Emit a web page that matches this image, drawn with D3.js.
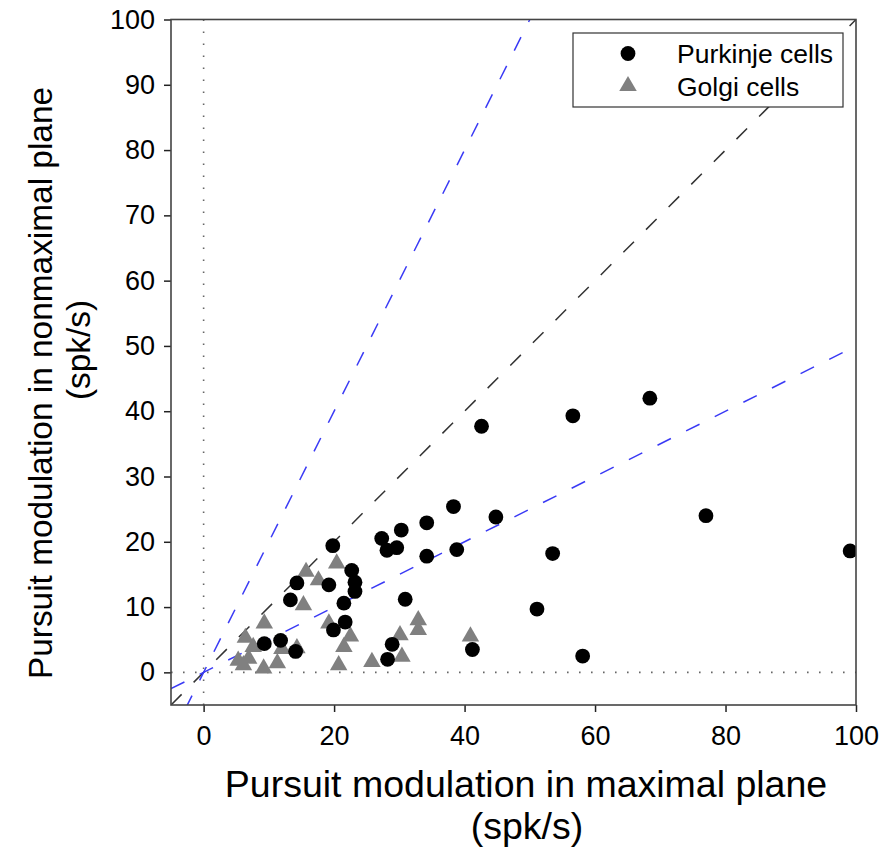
<!DOCTYPE html>
<html>
<head>
<meta charset="utf-8">
<script src="https://cdn.jsdelivr.net/npm/d3@7"></script>
<style>
  html, body { margin: 0; padding: 0; background: #fff; }
  svg { display: block; font-family: "Liberation Sans", Arial, Helvetica, sans-serif; }
</style>
</head>
<body>
<svg id="chart" width="883" height="855"></svg>
<script>
// Pursuit modulation (spk/s): maximal plane (x) vs nonmaximal plane (y)
const purkinjeX = [99.1, 68.4, 56.6, 42.6, 77.0, 38.3, 44.8, 34.2, 30.3, 27.3, 28.1, 29.6,
                   34.2, 38.8, 53.5, 30.9, 51.1, 28.9, 28.2, 41.2, 58.1,
                   19.8, 22.7, 23.2, 23.2, 21.5, 21.7, 19.9, 19.2, 14.3, 13.3, 9.3, 11.8, 14.1];
const purkinjeY = [18.6, 42.0, 39.3, 37.7, 24.0, 25.4, 23.8, 22.9, 21.8, 20.5, 18.7, 19.1,
                   17.8, 18.8, 18.2, 11.2, 9.7, 4.3, 2.0, 3.5, 2.5,
                   19.4, 15.6, 13.8, 12.4, 10.6, 7.7, 6.5, 13.4, 13.7, 11.1, 4.4, 4.9, 3.2];

const golgiX = [15.7, 17.6, 20.4, 15.3, 9.3, 19.2, 22.5, 21.5, 20.7, 6.4, 7.6, 5.3,
                6.9, 6.1, 9.2, 11.3, 12.0, 14.3, 25.8, 30.1, 30.4, 32.9, 32.9, 40.9];
const golgiY = [15.4, 14.1, 16.7, 10.3, 7.5, 7.5, 5.5, 3.9, 1.1, 5.3, 3.9, 1.8,
                2.1, 1.1, 0.6, 1.4, 3.6, 3.7, 1.6, 5.7, 2.4, 8.0, 6.5, 5.5];

const tickValues = [0, 10, 20, 30, 40, 50, 60, 70, 80, 90, 100];
const xTickValues = [0, 20, 40, 60, 80, 100];
const seriesNames = ["Purkinje cells", "Golgi cells"];
// reference lines: slope of y = k * x
const refSlopes = [1, 2, 0.5];
const refColors = ["#333333", "#3a3af5", "#3a3af5"];

const svg = d3.select("#chart");
const mLeft = 171, mRight = 856, mTop = 19.5, mBottom = 705;

const x = d3.scaleLinear().domain([-5, 100]).range([mLeft, mRight]);
const y = d3.scaleLinear().domain([-5, 100]).range([mBottom, mTop]);

svg.append("defs").append("clipPath").attr("id", "plotClip")
  .append("rect").attr("x", mLeft).attr("y", mTop)
  .attr("width", mRight - mLeft).attr("height", mBottom - mTop);

const plot = svg.append("g").attr("clip-path", "url(#plotClip)");

// dotted zero lines
plot.append("line")
  .attr("x1", x(0)).attr("x2", x(0)).attr("y1", y(-5)).attr("y2", y(100))
  .attr("stroke", "#666").attr("stroke-width", 1.6).attr("stroke-dasharray", "1.6,10.4");
plot.append("line")
  .attr("x1", x(-5)).attr("x2", x(100)).attr("y1", y(0)).attr("y2", y(0))
  .attr("stroke", "#666").attr("stroke-width", 1.6).attr("stroke-dasharray", "1.6,10.4");

// dashed reference lines through the origin
refSlopes.forEach((k, i) => {
  const x0 = -5, x1 = 100;
  plot.append("line")
    .attr("x1", x(x0)).attr("y1", y(k * x0))
    .attr("x2", x(x1)).attr("y2", y(k * x1))
    .attr("stroke", refColors[i]).attr("stroke-width", 1.5)
    .attr("stroke-dasharray", "15,17");
});

// triangle path centred on its centroid
function trianglePath(cx, cy, w) {
  const h = w * Math.sqrt(3) / 2;
  return `M${cx},${cy - 2 * h / 3}L${cx + w / 2},${cy + h / 3}L${cx - w / 2},${cy + h / 3}Z`;
}

// Golgi cells
plot.append("g").selectAll("path")
  .data(golgiX.map((v, i) => [v, golgiY[i]]))
  .join("path")
  .attr("d", d => trianglePath(x(d[0]), y(d[1]), 17.5))
  .attr("fill", "#808080");

// Purkinje cells
plot.append("g").selectAll("circle")
  .data(purkinjeX.map((v, i) => [v, purkinjeY[i]]))
  .join("circle")
  .attr("cx", d => x(d[0])).attr("cy", d => y(d[1]))
  .attr("r", 7.4).attr("fill", "#000");

// axes
const yAxis = svg.append("g").attr("transform", `translate(${mLeft},0)`)
  .call(d3.axisLeft(y).tickValues(tickValues).tickSize(7).tickSizeOuter(0).tickPadding(9));
const xAxis = svg.append("g").attr("transform", `translate(0,${mBottom})`)
  .call(d3.axisBottom(x).tickValues(xTickValues).tickSize(7).tickSizeOuter(0).tickPadding(14));
[xAxis, yAxis].forEach(a => {
  a.select(".domain").remove();
  a.selectAll(".tick line").attr("stroke", "#222").attr("stroke-width", 1.5);
  a.selectAll(".tick text").attr("fill", "#000")
    .style("font-size", "27px").style("font-family", "'Liberation Sans', Arial, sans-serif");
});

// frame
svg.append("rect")
  .attr("x", mLeft).attr("y", mTop).attr("width", mRight - mLeft).attr("height", mBottom - mTop)
  .attr("fill", "none").attr("stroke", "#444").attr("stroke-width", 1.6);

// legend
const lg = svg.append("g");
lg.append("rect").attr("x", 573).attr("y", 33).attr("width", 270).attr("height", 74)
  .attr("fill", "#fff").attr("stroke", "#333").attr("stroke-width", 1.2);
lg.append("circle").attr("cx", 628).attr("cy", 53.5).attr("r", 7.4).attr("fill", "#000");
lg.append("path").attr("d", trianglePath(628, 86, 17.5)).attr("fill", "#808080");
lg.selectAll("text.lab").data(seriesNames).join("text")
  .attr("class", "lab")
  .attr("x", 677).attr("y", (d, i) => 63 + i * 32.5)
  .attr("font-size", 26.5).attr("fill", "#000").text(d => d);

// axis titles
const xt = svg.append("text").attr("text-anchor", "middle").attr("fill", "#000");
xt.append("tspan").attr("x", 526).attr("y", 797).attr("font-size", 37.5)
  .text("Pursuit modulation in maximal plane");
xt.append("tspan").attr("x", 527).attr("y", 839).attr("font-size", 37.5).text("(spk/s)");

const yt = svg.append("text").attr("text-anchor", "middle").attr("fill", "#000")
  .attr("transform", "rotate(-90)");
yt.append("tspan").attr("x", -383).attr("y", 52).attr("font-size", 33.4)
  .text("Pursuit modulation in nonmaximal plane");
yt.append("tspan").attr("x", -350).attr("y", 90).attr("font-size", 33.4).text("(spk/s)");
</script>
</body>
</html>
